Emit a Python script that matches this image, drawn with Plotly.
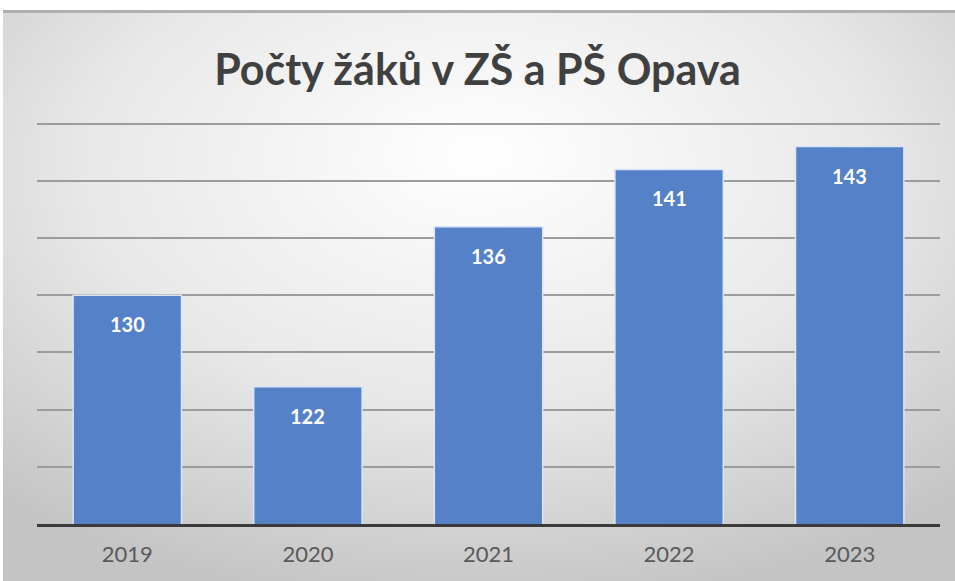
import base64
import plotly.graph_objects as go

# data
roky = ["2019", "2020", "2021", "2022", "2023"]
pocty = [130, 122, 136, 141, 143]

W, H = 955, 581
L, R, T, B = 37, 15, 118, 57
pw, ph = W - L - R, H - T - B

# pozadi - radialni prechod jako svg
svg = """<svg xmlns='http://www.w3.org/2000/svg' width='952' height='571' preserveAspectRatio='none'>
<defs><radialGradient id='g' cx='50%' cy='30%' r='75%' fx='50%' fy='25%'>
<stop offset='0%' stop-color='#ffffff'/>
<stop offset='55%' stop-color='#e8e8e8'/>
<stop offset='100%' stop-color='#c4c4c4'/>
</radialGradient></defs>
<rect width='952' height='571' fill='url(#g)'/>
<rect width='952' height='3' fill='#b0b0b0'/>
</svg>"""
src = "data:image/svg+xml;base64," + base64.b64encode(svg.encode()).decode()

fig = go.Figure()
fig.add_trace(go.Bar(
    x=roky, y=pocty,
    marker=dict(color="#5581c9", line=dict(color="#dbe5f5", width=1.5)),
    hoverinfo="x+y",
))

# popisky hodnot uvnitr sloupcu (x jako index kategorie, jinak se "2019" bere jako cislo)
anns = []
for i, p in enumerate(pocty):
    anns.append(dict(x=i, y=p, xref="x", yref="y", text=f"<b>{p}</b>",
                     showarrow=False, yanchor="top", yshift=-15,
                     font=dict(family="Lato", size=20, color="white")))

fig.update_layout(
    width=W, height=H,
    margin=dict(l=L, r=R, t=T, b=B),
    paper_bgcolor="white",
    plot_bgcolor="rgba(0,0,0,0)",
    title=dict(text="<b>Počty žáků v ZŠ a PŠ Opava</b>", x=0.5, xanchor="center",
               y=1 - 70 / H, yanchor="middle",
               font=dict(family="Lato", size=43, color="#404040")),
    bargap=0.4,
    showlegend=False,
    xaxis=dict(type="category", showline=True, linecolor="#3a3a3a", linewidth=3,
               ticks="", automargin=False, range=[-0.5, len(roky) - 0.5],
               ticklabelstandoff=9,
               tickfont=dict(family="Lato", size=22, color="#595959")),
    yaxis=dict(range=[110, 145.5], dtick=5, tick0=110, showticklabels=False,
               automargin=False, showgrid=True, gridcolor="#9c9c9c",
               gridwidth=1.5, zeroline=False),
    annotations=anns,
    images=[dict(source=src, xref="paper", yref="paper",
                 x=(3 - L) / pw, y=(H - B - 10) / ph,
                 sizex=(W - 3) / pw, sizey=(H - 10) / ph,
                 xanchor="left", yanchor="top", sizing="stretch", layer="below")],
)

fig.write_html("out.html", config={"displayModeBar": False},
               post_script="document.body.style.margin='0px';")
